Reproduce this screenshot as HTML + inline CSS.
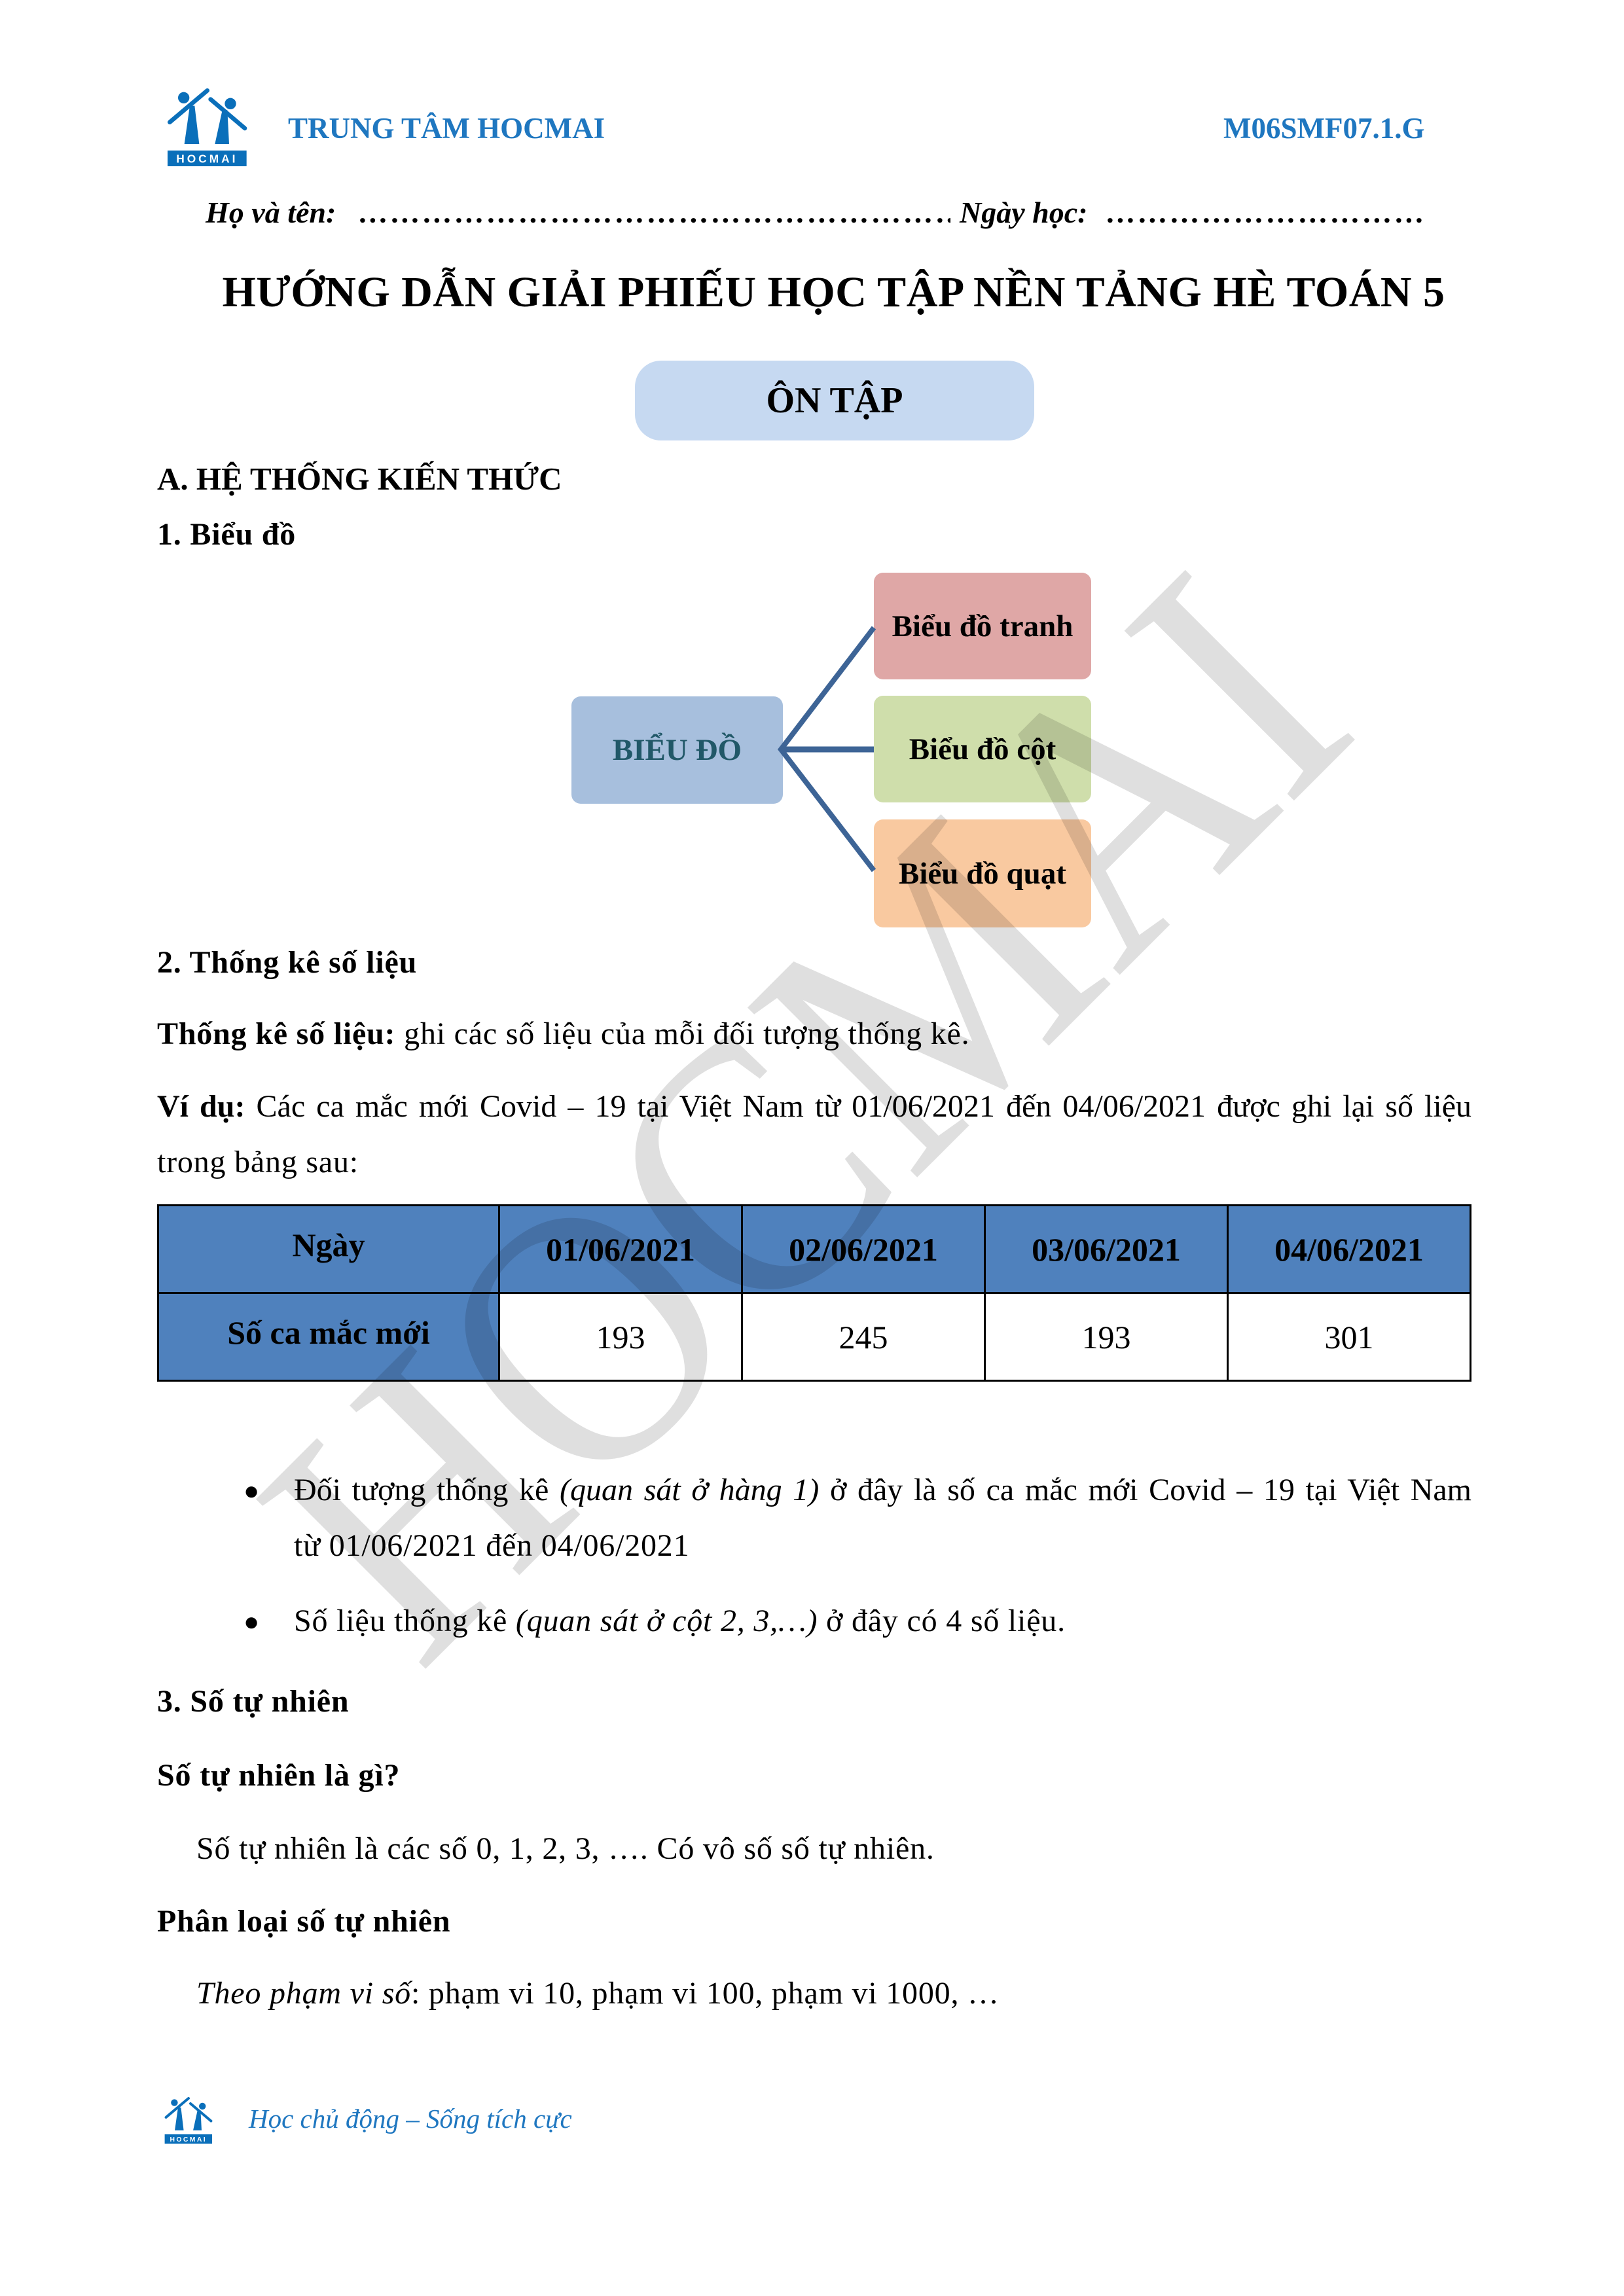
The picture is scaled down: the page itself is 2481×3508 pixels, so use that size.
<!DOCTYPE html>
<html><head><meta charset="utf-8"><style>
html,body{margin:0;padding:0;background:#fff}
#p{position:relative;width:2481px;height:3508px;overflow:hidden;font-family:"Liberation Serif",serif;color:#000}
.t{position:absolute;white-space:nowrap;line-height:1}
.b{font-weight:bold}
.j{text-align:justify;text-align-last:justify;white-space:normal}
.w{letter-spacing:0.8px}
.box{position:absolute;border-radius:14px;display:flex;align-items:center;justify-content:center;font-weight:bold;font-size:47px}
table{position:absolute;left:240px;top:1840px;width:2008px;border-collapse:collapse;font-size:50px}
td{border:3px solid #000;text-align:center;padding:0}
.dots{position:absolute;overflow:hidden;white-space:nowrap;line-height:1;font-size:46px;font-weight:bold;font-style:italic;letter-spacing:3px}
</style></head><body><div id="p">

<svg style="position:absolute;left:240px;top:120px" width="160" height="150" viewBox="0 0 480 450">
<g fill="#0a6fba" stroke="#0a6fba">
<circle cx="122" cy="88" r="26" stroke="none"/>
<circle cx="336" cy="115" r="26" stroke="none"/>
<line x1="58" y1="200" x2="230" y2="55" stroke-width="20" stroke-linecap="round"/>
<line x1="245" y1="95" x2="402" y2="228" stroke-width="20" stroke-linecap="round"/>
<polygon points="150,125 172,125 193,300 125,300" stroke="none"/>
<polygon points="300,140 322,145 330,300 265,300" stroke="none"/>
<rect x="48" y="330" width="362" height="72" stroke="none"/>
</g>
<text x="229" y="386" font-family="Liberation Sans" font-weight="bold" font-size="52" fill="#fff" text-anchor="middle" letter-spacing="12">HOCMAI</text>
</svg>

<div class="t b" style="left:440px;top:174px;font-size:45px;color:#1f77c0">TRUNG TÂM HOCMAI</div>
<div class="t b" style="left:1869px;top:174px;font-size:45px;color:#1f77c0">M06SMF07.1.G</div>

<div class="t b" style="left:314px;top:302px;font-size:46px;font-style:italic">Họ và tên:</div>
<div class="dots" style="left:548px;top:302px;width:904px">……………………………………………………………………………………</div>
<div class="t b" style="left:1466px;top:302px;font-size:46px;font-style:italic">Ngày học:</div>
<div class="dots" style="left:1690px;top:302px;width:490px">……………………………………………………</div>

<div class="t b" style="left:335px;top:414px;font-size:66px;width:1877px;text-align:center;letter-spacing:0.5px">HƯỚNG DẪN GIẢI PHIẾU HỌC TẬP NỀN TẢNG HÈ TOÁN 5</div>

<div style="position:absolute;left:970px;top:551px;width:610px;height:122px;background:#c6d9f1;border-radius:40px"></div>
<div class="t b" style="left:970px;top:584px;width:610px;text-align:center;font-size:56px">ÔN TẬP</div>

<div class="t b" style="left:240px;top:707px;font-size:49px">A. HỆ THỐNG KIẾN THỨC</div>
<div class="t b w" style="left:240px;top:793px;font-size:48px">1. Biểu đồ</div>

<div class="box" style="left:873px;top:1064px;width:323px;height:164px;background:#a7bfdd;color:#215868">BIỂU ĐỒ</div>
<div class="box" style="left:1335px;top:875px;width:332px;height:163px;background:#dfa7a6">Biểu đồ tranh</div>
<div class="box" style="left:1335px;top:1063px;width:332px;height:163px;background:#cfdeab">Biểu đồ cột</div>
<div class="box" style="left:1335px;top:1252px;width:332px;height:165px;background:#f9c9a0">Biểu đồ quạt</div>
<svg style="position:absolute;left:0;top:0" width="2481" height="1500">
<g stroke="#3d6496" stroke-width="8" fill="none">
<polyline points="1335,959 1193,1145 1335,1330"/>
<line x1="1193" y1="1145" x2="1335" y2="1145" stroke-width="9"/>
</g></svg>

<div class="t b w" style="left:240px;top:1447px;font-size:48px">2. Thống kê số liệu</div>
<div class="t w" style="left:240px;top:1556px;font-size:48px"><b>Thống kê số liệu:</b> ghi các số liệu của mỗi đối tượng thống kê.</div>
<div class="t j" style="left:240px;top:1667px;width:2008px;font-size:48px"><b>Ví dụ:</b> Các ca mắc mới Covid – 19 tại Việt Nam từ 01/06/2021 đến 04/06/2021 được ghi lại số liệu</div>
<div class="t w" style="left:240px;top:1752px;font-size:48px">trong bảng sau:</div>

<table>
<tr style="height:134px;background:#4f81bd;font-weight:bold"><td style="width:518px;vertical-align:top;padding-top:30px">Ngày</td><td>01/06/2021</td><td>02/06/2021</td><td>03/06/2021</td><td>04/06/2021</td></tr>
<tr style="height:134px"><td style="background:#4f81bd;font-weight:bold;vertical-align:top;padding-top:30px">Số ca mắc mới</td><td>193</td><td>245</td><td>193</td><td>301</td></tr>
</table>

<div class="t" style="left:372px;top:2258px;font-size:40px">●</div>
<div class="t j" style="left:449px;top:2253px;width:1799px;font-size:48px">Đối tượng thống kê <i>(quan sát ở hàng 1)</i> ở đây là số ca mắc mới Covid – 19 tại Việt Nam</div>
<div class="t w" style="left:449px;top:2338px;font-size:48px">từ 01/06/2021 đến 04/06/2021</div>
<div class="t" style="left:372px;top:2458px;font-size:40px">●</div>
<div class="t w" style="left:449px;top:2453px;font-size:48px">Số liệu thống kê <i>(quan sát ở cột 2, 3,…)</i> ở đây có 4 số liệu.</div>

<div class="t b w" style="left:240px;top:2576px;font-size:48px">3. Số tự nhiên</div>
<div class="t b w" style="left:240px;top:2689px;font-size:48px">Số tự nhiên là gì?</div>
<div class="t w" style="left:300px;top:2801px;font-size:48px">Số tự nhiên là các số 0, 1, 2, 3, …. Có vô số số tự nhiên.</div>
<div class="t b w" style="left:240px;top:2912px;font-size:48px">Phân loại số tự nhiên</div>
<div class="t w" style="left:300px;top:3022px;font-size:48px"><i>Theo phạm vi số</i>: phạm vi 10, phạm vi 100, phạm vi 1000, …</div>

<svg style="position:absolute;left:240px;top:3195px" width="100" height="90" viewBox="0 0 480 450">
<g fill="#0a6fba" stroke="#0a6fba">
<circle cx="122" cy="88" r="26" stroke="none"/>
<circle cx="336" cy="115" r="26" stroke="none"/>
<line x1="58" y1="200" x2="230" y2="55" stroke-width="20" stroke-linecap="round"/>
<line x1="245" y1="95" x2="402" y2="228" stroke-width="20" stroke-linecap="round"/>
<polygon points="150,125 172,125 193,300 125,300" stroke="none"/>
<polygon points="300,140 322,145 330,300 265,300" stroke="none"/>
<rect x="48" y="330" width="362" height="72" stroke="none"/>
</g>
<text x="229" y="386" font-family="Liberation Sans" font-weight="bold" font-size="52" fill="#fff" text-anchor="middle" letter-spacing="12">HOCMAI</text>
</svg>
<div class="t" style="left:380px;top:3217px;font-size:41px;font-style:italic;color:#1f77c0">Học chủ động – Sống tích cực</div>

<svg style="position:absolute;left:0;top:0;pointer-events:none" width="2481" height="3508">
<text x="640" y="2560" transform="rotate(-45 640 2560)" font-family="Liberation Serif" font-size="560" textLength="2040" lengthAdjust="spacingAndGlyphs" fill="rgba(0,0,0,0.125)">HOCMAI</text>
</svg>
</div></body></html>
